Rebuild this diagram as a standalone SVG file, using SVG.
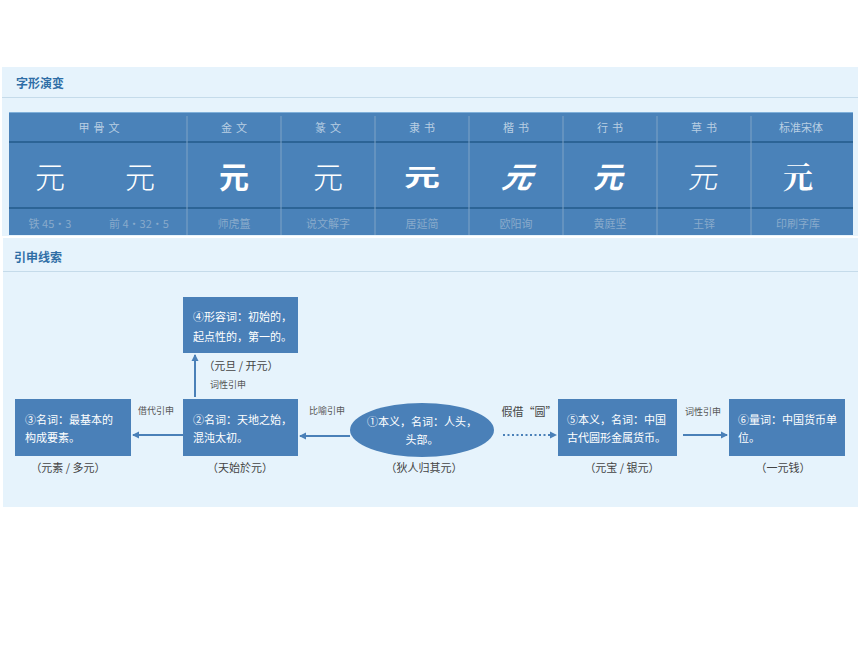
<svg xmlns="http://www.w3.org/2000/svg" width="860" height="645" viewBox="0 0 860 645">
<style>
text{font-family:"Noto Sans CJK SC","Liberation Sans",sans-serif;}
.panel{fill:#e6f3fc;}
.sep{stroke:#c5dbea;stroke-width:1;}
.title{font-size:12px;font-weight:bold;fill:#2f6ea6;}
.th{font-size:11px;fill:#b9cfe3;text-anchor:middle;letter-spacing:4px;}
.tf{font-size:11px;fill:#88aacb;text-anchor:middle;}
.gl{font-size:30px;fill:#fff;text-anchor:middle;}
.row{stroke:#2c6496;stroke-width:2;}
.col{stroke:#7ea3c6;stroke-width:1;}
.node{fill:#4a80b8;}
.nt{font-size:11px;fill:#fff;}
.cap{font-size:11px;fill:#444;text-anchor:middle;}
.lab{font-size:9px;fill:#555;text-anchor:middle;}
.edge{stroke:#4a80b8;stroke-width:2;fill:none;}
</style>
<defs>
<marker id="ah" markerWidth="8" markerHeight="8" refX="6" refY="4" orient="auto" markerUnits="userSpaceOnUse">
<path d="M0,0.5 L7,4 L0,7.5 z" fill="#4a80b8"/>
</marker>
</defs>
<rect width="860" height="645" fill="#fff"/>
<g id="panel-top">
<rect class="panel" x="2" y="67" width="856" height="169"/>
<line class="sep" x1="2" y1="97.5" x2="858" y2="97.5"/>
<text class="title" x="16" y="88">字形演变</text>
</g>
<g id="table">
<rect x="9" y="112" width="844" height="123" fill="#4a82b9"/>
<line x1="9" y1="112.5" x2="853" y2="112.5" stroke="#7fb0da" stroke-width="1"/>
<line class="row" x1="9" y1="142" x2="853" y2="142"/>
<line class="row" x1="9" y1="208" x2="853" y2="208"/>
<g>
<line class="col" x1="187" y1="116" x2="187" y2="235"/>
<line class="col" x1="281" y1="116" x2="281" y2="235"/>
<line class="col" x1="375" y1="116" x2="375" y2="235"/>
<line class="col" x1="469" y1="116" x2="469" y2="235"/>
<line class="col" x1="563" y1="116" x2="563" y2="235"/>
<line class="col" x1="657" y1="116" x2="657" y2="235"/>
<line class="col" x1="751" y1="116" x2="751" y2="235"/>
</g>
<text class="th" x="101" y="132">甲骨文</text>
<text class="th" x="236" y="132">金文</text>
<text class="th" x="330" y="132">篆文</text>
<text class="th" x="424" y="132">隶书</text>
<text class="th" x="518" y="132">楷书</text>
<text class="th" x="612" y="132">行书</text>
<text class="th" x="706" y="132">草书</text>
<text class="th" x="801" y="132" style="letter-spacing:0">标准宋体</text>
<text class="gl" x="50" y="188" style="font-weight:300">元</text>
<text class="gl" x="140" y="188" style="font-weight:300">元</text>
<text class="gl" x="234" y="188" style="font-weight:bold">元</text>
<text class="gl" x="328" y="188" style="font-weight:300">元</text>
<text class="gl" x="422" y="188" style="font-weight:bold" transform="translate(422,177) scale(1.2,0.8) translate(-422,-177)">元</text>
<text class="gl" x="516" y="188" style="font-weight:bold;font-style:italic" transform="skewX(-10) translate(33,0)">元</text>
<text class="gl" x="610" y="188" style="font-weight:bold" transform="skewX(-12) translate(38,0)">元</text>
<text class="gl" x="704" y="188" style="font-weight:300" transform="skewX(-8) translate(25,0)">元</text>
<text class="gl" x="798" y="188" style="font-family:'Noto Serif CJK SC','Noto Sans CJK SC',serif;font-weight:bold">元</text>
<text class="tf" x="50" y="228">铁 45•3</text>
<text class="tf" x="139" y="228">前 4•32•5</text>
<text class="tf" x="234" y="228">师虎簋</text>
<text class="tf" x="328" y="228">说文解字</text>
<text class="tf" x="422" y="228">居延简</text>
<text class="tf" x="516" y="228">欧阳询</text>
<text class="tf" x="610" y="228">黄庭坚</text>
<text class="tf" x="704" y="228">王铎</text>
<text class="tf" x="798" y="228">印刷字库</text>
</g>
<g id="panel-bottom">
<rect class="panel" x="3" y="238" width="855" height="269"/>
<line class="sep" x1="3" y1="271.5" x2="858" y2="271.5"/>
<text class="title" x="14" y="262">引申线索</text>
</g>
<g id="connectors">
<line class="edge" x1="195" y1="397" x2="195" y2="355" marker-end="url(#ah)"/>
<line class="edge" x1="183" y1="435" x2="133" y2="435" marker-end="url(#ah)"/>
<line class="edge" x1="350" y1="436" x2="300" y2="436" marker-end="url(#ah)"/>
<line class="edge" x1="503" y1="435" x2="556" y2="435" stroke-dasharray="2,2.5" marker-end="url(#ah)"/>
<line class="edge" x1="683" y1="435" x2="727" y2="435" marker-end="url(#ah)"/>
<text class="lab" x="228" y="388">词性引申</text>
<text class="lab" x="156" y="414">借代引申</text>
<text class="lab" x="327" y="414">比喻引申</text>
<text x="529" y="416" style="font-size:11px;fill:#444;text-anchor:middle">假借“圆”</text>
<text class="lab" x="703" y="415">词性引申</text>
</g>
<g id="n4">
<rect class="node" x="183" y="297" width="115" height="56"/>
<text class="nt" x="193" y="321">④形容词：初始的，</text>
<text class="nt" x="193" y="341">起点性的，第一的。</text>
<text class="cap" x="241" y="370">（元旦 / 开元）</text>
</g>
<g id="n2">
<rect class="node" x="183" y="399" width="115" height="57"/>
<text class="nt" x="193" y="424">②名词：天地之始，</text>
<text class="nt" x="193" y="442">混沌太初。</text>
<text class="cap" x="240" y="472">（天始於元）</text>
</g>
<g id="n3">
<rect class="node" x="15" y="399" width="116" height="57"/>
<text class="nt" x="25" y="424">③名词：最基本的</text>
<text class="nt" x="25" y="442">构成要素。</text>
<text class="cap" x="68" y="472">（元素 / 多元）</text>
</g>
<g id="n1">
<ellipse class="node" cx="422" cy="430" rx="72" ry="27"/>
<text class="nt" x="422" y="426" text-anchor="middle">①本义，名词：人头，</text>
<text class="nt" x="422" y="444" text-anchor="middle">头部。</text>
<text class="cap" x="424" y="472">（狄人归其元）</text>
</g>
<g id="n5">
<rect class="node" x="558" y="399" width="119" height="57"/>
<text class="nt" x="567" y="424">⑤本义，名词：中国</text>
<text class="nt" x="567" y="442">古代圆形金属货币。</text>
<text class="cap" x="622" y="472">（元宝 / 银元）</text>
</g>
<g id="n6">
<rect class="node" x="729" y="399" width="116" height="57"/>
<text class="nt" x="738" y="424">⑥量词：中国货币单</text>
<text class="nt" x="738" y="442">位。</text>
<text class="cap" x="783" y="472">（一元钱）</text>
</g>
</svg>
